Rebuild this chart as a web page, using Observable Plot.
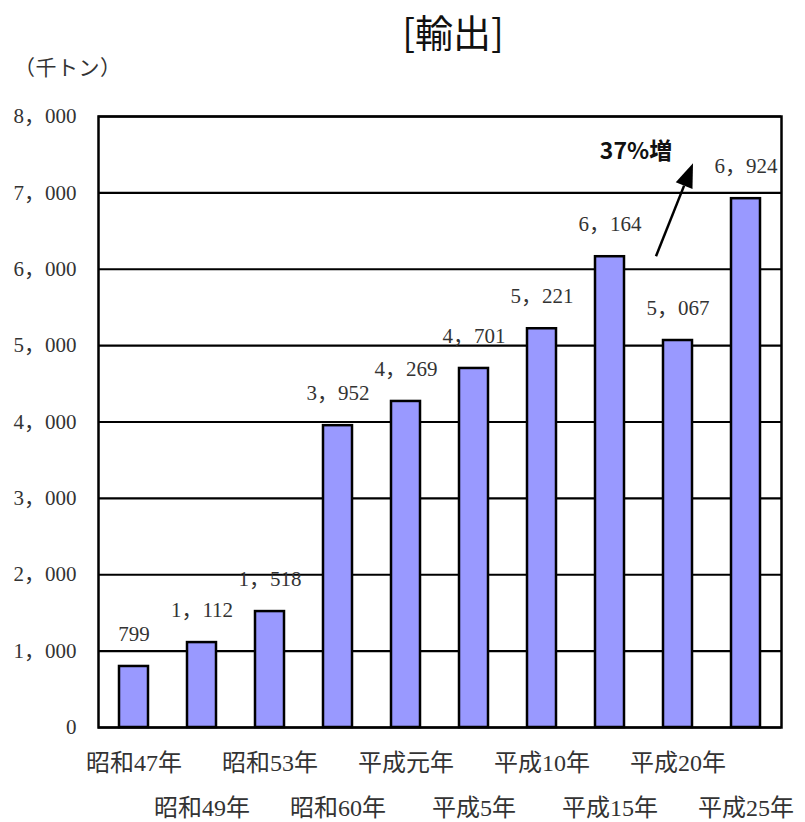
<!DOCTYPE html>
<html>
<head>
<meta charset="utf-8">
<script src="https://cdn.jsdelivr.net/npm/d3@7"></script>
<script src="https://cdn.jsdelivr.net/npm/@observablehq/plot@0.6"></script>
<style>
  html, body { margin: 0; padding: 0; background: #fff; }
  #wrap { position: relative; width: 805px; height: 822px; }
  #title { position: absolute; left: 0; width: 906px; top: 8px; text-align: center;
           font-family: "Noto Sans CJK JP", sans-serif; font-size: 38px; color: #111; line-height: 46px; }
  #unit { position: absolute; left: 14px; top: 54px; font-family: "Liberation Serif", "Noto Sans CJK JP", serif;
          font-size: 21px; color: #333; line-height: 28px; letter-spacing: 0.5px; }
</style>
</head>
<body>
<div id="wrap">
  <div id="title">[輸出]</div>
  <div id="unit">（千トン）</div>
  <div id="chart"></div>
</div>
<script>
const categories = ["昭和47年","昭和49年","昭和53年","昭和60年","平成元年","平成5年","平成10年","平成15年","平成20年","平成25年"];
const values = [799, 1112, 1518, 3952, 4269, 4701, 5221, 6164, 5067, 6924];
const yTicks = [0, 1000, 2000, 3000, 4000, 5000, 6000, 7000, 8000];
const arrowCategory = ["平成20年"];
const arrowValues = [6164, 7380];
const arrowLabel = ["37%増"];
const arrowLabelValue = [7545];

const data = categories.map((c, i) => ({category: c, value: values[i], row: i % 2}));
const fmt = v => d3.format(",")(v).replace(",", "，");
const serif = '"Liberation Serif", "Noto Sans CJK JP", serif';

function arrowMark(...args) {
  let scales = null;
  for (const a of args) {
    if (a && !Array.isArray(a) && typeof a.x === "function" && typeof a.y === "function") { scales = a; break; }
  }
  const g = d3.create("svg:g");
  if (!scales) return g.node();
  const bw = scales.x.bandwidth ? scales.x.bandwidth() : 29;
  const x0 = scales.x(arrowCategory[0]) - 7;
  const x1 = scales.x(arrowCategory[0]) + bw + 1;
  const y0 = scales.y(arrowValues[0]);
  const y1 = scales.y(arrowValues[1]);
  const dx = x1 - x0, dy = y1 - y0, len = Math.hypot(dx, dy);
  const ux = dx / len, uy = dy / len;
  const headLen = 24, headW = 9;
  const bx = x1 - ux * headLen, by = y1 - uy * headLen;
  g.append("line").attr("x1", x0).attr("y1", y0).attr("x2", bx).attr("y2", by)
    .attr("stroke", "#000").attr("stroke-width", 2.5);
  g.append("path")
    .attr("d", `M${x1},${y1}L${bx - uy * headW},${by + ux * headW}L${bx + uy * headW},${by - ux * headW}Z`)
    .attr("fill", "#000");
  return g.node();
}

const chart = Plot.plot({
  width: 805,
  height: 822,
  marginTop: 116,
  marginBottom: 95,
  marginLeft: 98,
  marginRight: 24,
  style: {fontFamily: serif, background: "#fff"},
  x: {domain: categories, paddingInner: 0.575, paddingOuter: 0.2875, axis: null},
  y: {domain: [0, 8000], axis: null},
  marks: [
    Plot.gridY(yTicks, {stroke: "#000", strokeOpacity: 1, strokeWidth: 2.2}),
    Plot.axisY(yTicks, {tickSize: 0, tickPadding: 22, tickFormat: fmt, fontSize: 21, fill: "#333", label: null}),
    Plot.barY(data, {x: "category", y: "value", fill: "#9999ff", stroke: "#000", strokeWidth: 2.5}),
    Plot.text(data, {x: "category", y: "value", text: d => fmt(d.value), dy: -32, fontSize: 21, fill: "#333"}),
    Plot.text(data.filter(d => d.row === 0), {x: "category", text: "category", frameAnchor: "bottom", dy: 43, fontSize: 24, fill: "#333"}),
    Plot.text(data.filter(d => d.row === 1), {x: "category", text: "category", frameAnchor: "bottom", dy: 88, fontSize: 24, fill: "#333"}),
    Plot.frame({stroke: "#000", strokeWidth: 2.5}),
    arrowMark,
    Plot.text(arrowLabel, {x: () => arrowCategory[0], y: () => arrowLabelValue[0], text: d => d, dx: -42, fontSize: 23, fontWeight: "bold", fill: "#111", fontFamily: '"Noto Sans CJK JP", sans-serif'})
  ]
});
document.getElementById("chart").appendChild(chart);
</script>
</body>
</html>
